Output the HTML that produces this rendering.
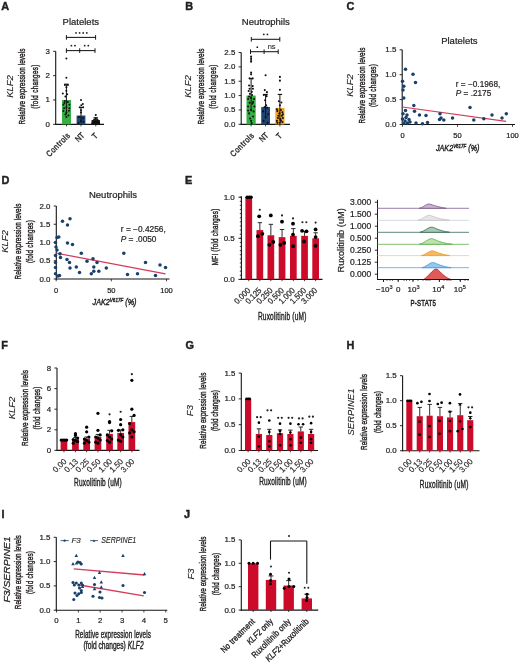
<!DOCTYPE html>
<html><head><meta charset="utf-8"><style>
html,body{margin:0;padding:0;background:#fff;}
svg{display:block;will-change:transform;}
text{font-family:"Liberation Sans", sans-serif;fill:#231f20;stroke:#231f20;stroke-width:0.22px;}
</style></head><body>
<svg width="520" height="666" viewBox="0 0 520 666" font-family='"Liberation Sans", sans-serif'>
<rect width="520" height="666" fill="#fff"/>
<text x="1.3" y="10.3" font-size="10.9" text-anchor="start" font-weight="bold" style="stroke-width:0.45px" fill="#000">A</text>
<text x="80.8" y="25" font-size="9.5" text-anchor="middle">Platelets</text>
<line x1="55.7" y1="51.31" x2="55.7" y2="124.95" stroke="#151515" stroke-width="1.1"/>
<line x1="53.1" y1="124.3" x2="55.7" y2="124.3" stroke="#151515" stroke-width="0.9"/>
<text x="49.8" y="126.8" font-size="7.9" text-anchor="end">0</text>
<line x1="53.1" y1="99.97" x2="55.7" y2="99.97" stroke="#151515" stroke-width="0.9"/>
<text x="49.8" y="102.47" font-size="7.9" text-anchor="end">1</text>
<line x1="53.1" y1="75.64" x2="55.7" y2="75.64" stroke="#151515" stroke-width="0.9"/>
<text x="49.8" y="78.14" font-size="7.9" text-anchor="end">2</text>
<line x1="53.1" y1="51.31" x2="55.7" y2="51.31" stroke="#151515" stroke-width="0.9"/>
<text x="49.8" y="53.81" font-size="7.9" text-anchor="end">3</text>
<line x1="55.2" y1="124.4" x2="104" y2="124.4" stroke="#151515" stroke-width="1.1"/>
<rect x="62" y="99.97" width="9" height="24.43" fill="#36b042"/>
<line x1="66.5" y1="124.4" x2="66.5" y2="126.4" stroke="#151515" stroke-width="0.8"/>
<rect x="76.6" y="115.54" width="8.8" height="8.86" fill="#1d4677"/>
<line x1="81" y1="124.4" x2="81" y2="126.4" stroke="#151515" stroke-width="0.8"/>
<rect x="91.5" y="120.16" width="8.5" height="4.24" fill="#1a1a1a"/>
<line x1="95.75" y1="124.4" x2="95.75" y2="126.4" stroke="#151515" stroke-width="0.8"/>
<line x1="66.4" y1="84.16" x2="66.4" y2="114.57" stroke="#151515" stroke-width="1.0"/>
<line x1="64.2" y1="84.16" x2="68.6" y2="84.16" stroke="#151515" stroke-width="1.1"/>
<line x1="81" y1="107.51" x2="81" y2="123.08" stroke="#151515" stroke-width="1.0"/>
<line x1="78.8" y1="107.51" x2="83.2" y2="107.51" stroke="#151515" stroke-width="1.1"/>
<line x1="95.75" y1="117.73" x2="95.75" y2="122.6" stroke="#151515" stroke-width="1.0"/>
<line x1="93.55" y1="117.73" x2="97.95" y2="117.73" stroke="#151515" stroke-width="1.1"/>
<circle cx="66.4" cy="58.61" r="1.0" fill="#111"/>
<circle cx="66.4" cy="77.83" r="1.0" fill="#111"/>
<circle cx="66.4" cy="87.32" r="1.0" fill="#111"/>
<circle cx="62.8" cy="93.4" r="1.0" fill="#111"/>
<circle cx="67.2" cy="94.37" r="1.0" fill="#111"/>
<circle cx="65.4" cy="96.56" r="1.0" fill="#111"/>
<circle cx="66.4" cy="90.72" r="1.0" fill="#111"/>
<circle cx="67.9" cy="84.89" r="1.0" fill="#111"/>
<circle cx="64.9" cy="84.89" r="1.0" fill="#111"/>
<circle cx="63.4" cy="104.84" r="1.0" fill="#111"/>
<circle cx="69.4" cy="104.84" r="1.0" fill="#111"/>
<circle cx="64.1" cy="108.24" r="1.0" fill="#111"/>
<circle cx="66.4" cy="107.27" r="1.0" fill="#111"/>
<circle cx="68.9" cy="110.68" r="1.0" fill="#111"/>
<circle cx="63.4" cy="110.92" r="1.0" fill="#111"/>
<circle cx="66.4" cy="112.62" r="1.0" fill="#111"/>
<circle cx="65.4" cy="114.57" r="1.0" fill="#111"/>
<circle cx="67.9" cy="101.92" r="1.0" fill="#111"/>
<circle cx="64.9" cy="100.94" r="1.0" fill="#111"/>
<circle cx="68.4" cy="115.54" r="1.0" fill="#111"/>
<circle cx="66.4" cy="117" r="1.0" fill="#111"/>
<circle cx="69.4" cy="108.24" r="1.0" fill="#111"/>
<circle cx="64.4" cy="102.89" r="1.0" fill="#111"/>
<circle cx="81" cy="99.97" r="1.0" fill="#111"/>
<circle cx="82.8" cy="104.11" r="1.0" fill="#111"/>
<circle cx="81.3" cy="105.32" r="1.0" fill="#111"/>
<circle cx="79.8" cy="107.27" r="1.0" fill="#111"/>
<circle cx="83.2" cy="107.27" r="1.0" fill="#111"/>
<circle cx="81" cy="110.19" r="1.0" fill="#111"/>
<circle cx="81" cy="112.62" r="1.0" fill="#111"/>
<circle cx="79" cy="117" r="1.0" fill="#111"/>
<circle cx="83" cy="118.22" r="1.0" fill="#111"/>
<circle cx="81" cy="120.65" r="1.0" fill="#111"/>
<circle cx="78.5" cy="123.08" r="1.0" fill="#111"/>
<circle cx="83.5" cy="121.87" r="1.0" fill="#111"/>
<circle cx="95.75" cy="115.05" r="1.05" fill="#111"/>
<circle cx="95.75" cy="118.46" r="1.05" fill="#111"/>
<circle cx="94.25" cy="119.43" r="1.05" fill="#111"/>
<circle cx="97.25" cy="119.43" r="1.05" fill="#111"/>
<circle cx="93.25" cy="120.89" r="1.05" fill="#111"/>
<circle cx="98.25" cy="120.89" r="1.05" fill="#111"/>
<circle cx="95.75" cy="120.65" r="1.05" fill="#111"/>
<circle cx="92.75" cy="122.6" r="1.05" fill="#111"/>
<circle cx="98.75" cy="122.6" r="1.05" fill="#111"/>
<circle cx="94.75" cy="122.11" r="1.05" fill="#111"/>
<circle cx="96.75" cy="122.11" r="1.05" fill="#111"/>
<circle cx="92.45" cy="123.57" r="1.05" fill="#111"/>
<circle cx="99.05" cy="123.57" r="1.05" fill="#111"/>
<circle cx="95.75" cy="123.33" r="1.05" fill="#111"/>
<circle cx="93.75" cy="123.57" r="1.05" fill="#111"/>
<circle cx="97.75" cy="123.57" r="1.05" fill="#111"/>
<line x1="66.4" y1="37.4" x2="95.6" y2="37.4" stroke="#151515" stroke-width="1.05"/>
<line x1="66.4" y1="35.1" x2="66.4" y2="39.7" stroke="#151515" stroke-width="1.0"/>
<line x1="95.6" y1="35.1" x2="95.6" y2="39.7" stroke="#151515" stroke-width="1.0"/>
<circle cx="76" cy="32.9" r="0.9" fill="#222"/>
<circle cx="79.6" cy="32.9" r="0.9" fill="#222"/>
<circle cx="83.2" cy="32.9" r="0.9" fill="#222"/>
<circle cx="86.8" cy="32.9" r="0.9" fill="#222"/>
<line x1="66.4" y1="50.6" x2="95" y2="50.6" stroke="#151515" stroke-width="1.05"/>
<line x1="66.4" y1="48.3" x2="66.4" y2="52.9" stroke="#151515" stroke-width="1.0"/>
<line x1="95" y1="48.3" x2="95" y2="52.9" stroke="#151515" stroke-width="1.0"/>
<line x1="79.7" y1="48.3" x2="79.7" y2="52.9" stroke="#151515" stroke-width="1.0"/>
<circle cx="71.4" cy="45.7" r="0.9" fill="#222"/>
<circle cx="75" cy="45.7" r="0.9" fill="#222"/>
<circle cx="84.7" cy="45.7" r="0.9" fill="#222"/>
<circle cx="88.3" cy="45.7" r="0.9" fill="#222"/>
<text transform="translate(12.6,86.5) rotate(-90)" x="0" y="0" font-size="9.5" text-anchor="middle" font-style="italic" style="stroke-width:0.12px">KLF2</text>
<text transform="translate(25.3,86.5) rotate(-90) scale(0.66,1)" x="0" y="0" font-size="9.6" text-anchor="middle" style="letter-spacing:0.167px;stroke-width:0.42px">Relative expression levels</text>
<text transform="translate(38.1,86.5) rotate(-90) scale(0.66,1)" x="0" y="0" font-size="9.6" text-anchor="middle" style="letter-spacing:0.448px;stroke-width:0.42px">(fold changes)</text>
<text transform="translate(70.8,136) rotate(-45) scale(0.85,1)" x="0" y="0" font-size="8.3" text-anchor="end" style="letter-spacing:0.557px;stroke-width:0.35px">Controls</text>
<text transform="translate(84.8,136) rotate(-45) scale(0.85,1)" x="0" y="0" font-size="8.3" text-anchor="end" style="letter-spacing:-0.223px;stroke-width:0.35px">NT</text>
<text transform="translate(98.8,136) rotate(-45) scale(0.85,1)" x="0" y="0" font-size="8.3" text-anchor="end" style="letter-spacing:0.636px;stroke-width:0.35px">T</text>
<text x="185.3" y="10.3" font-size="10.9" text-anchor="start" font-weight="bold" style="stroke-width:0.45px" fill="#000">B</text>
<text x="265.8" y="25" font-size="9.5" text-anchor="middle">Neutrophils</text>
<line x1="241.2" y1="52.5" x2="241.2" y2="124.95" stroke="#151515" stroke-width="1.1"/>
<line x1="238.6" y1="124.3" x2="241.2" y2="124.3" stroke="#151515" stroke-width="0.9"/>
<text x="235.3" y="126.8" font-size="7.9" text-anchor="end">0.0</text>
<line x1="238.6" y1="109.94" x2="241.2" y2="109.94" stroke="#151515" stroke-width="0.9"/>
<text x="235.3" y="112.44" font-size="7.9" text-anchor="end">0.5</text>
<line x1="238.6" y1="95.58" x2="241.2" y2="95.58" stroke="#151515" stroke-width="0.9"/>
<text x="235.3" y="98.08" font-size="7.9" text-anchor="end">1.0</text>
<line x1="238.6" y1="81.22" x2="241.2" y2="81.22" stroke="#151515" stroke-width="0.9"/>
<text x="235.3" y="83.72" font-size="7.9" text-anchor="end">1.5</text>
<line x1="238.6" y1="66.86" x2="241.2" y2="66.86" stroke="#151515" stroke-width="0.9"/>
<text x="235.3" y="69.36" font-size="7.9" text-anchor="end">2.0</text>
<line x1="238.6" y1="52.5" x2="241.2" y2="52.5" stroke="#151515" stroke-width="0.9"/>
<text x="235.3" y="55" font-size="7.9" text-anchor="end">2.5</text>
<line x1="240.7" y1="124.4" x2="290" y2="124.4" stroke="#151515" stroke-width="1.1"/>
<rect x="246.5" y="95.58" width="9.2" height="28.82" fill="#36b042"/>
<line x1="251.1" y1="124.4" x2="251.1" y2="126.4" stroke="#151515" stroke-width="0.8"/>
<rect x="261.2" y="107.07" width="8.8" height="17.33" fill="#1d4677"/>
<line x1="265.6" y1="124.4" x2="265.6" y2="126.4" stroke="#151515" stroke-width="0.8"/>
<rect x="275.3" y="107.93" width="9.2" height="16.47" fill="#f2a420"/>
<line x1="279.9" y1="124.4" x2="279.9" y2="126.4" stroke="#151515" stroke-width="0.8"/>
<line x1="251.1" y1="78.64" x2="251.1" y2="111.38" stroke="#151515" stroke-width="1.0"/>
<line x1="248.9" y1="78.64" x2="253.3" y2="78.64" stroke="#151515" stroke-width="1.1"/>
<line x1="265.6" y1="94.43" x2="265.6" y2="118.56" stroke="#151515" stroke-width="1.0"/>
<line x1="263.4" y1="94.43" x2="267.8" y2="94.43" stroke="#151515" stroke-width="1.1"/>
<line x1="279.9" y1="94.43" x2="279.9" y2="121.43" stroke="#151515" stroke-width="1.0"/>
<line x1="277.7" y1="94.43" x2="282.1" y2="94.43" stroke="#151515" stroke-width="1.1"/>
<circle cx="251.1" cy="56.52" r="1.05" fill="#111"/>
<circle cx="251.1" cy="58.24" r="1.05" fill="#111"/>
<circle cx="251.1" cy="59.97" r="1.05" fill="#111"/>
<circle cx="251.1" cy="61.69" r="1.05" fill="#111"/>
<circle cx="251.1" cy="72.6" r="1.05" fill="#111"/>
<circle cx="251.1" cy="74.33" r="1.05" fill="#111"/>
<circle cx="249.6" cy="78.35" r="1.05" fill="#111"/>
<circle cx="252.6" cy="78.35" r="1.05" fill="#111"/>
<circle cx="249.1" cy="85.53" r="1.05" fill="#111"/>
<circle cx="252.7" cy="86.1" r="1.05" fill="#111"/>
<circle cx="249.6" cy="88.69" r="1.05" fill="#111"/>
<circle cx="252.9" cy="88.69" r="1.05" fill="#111"/>
<circle cx="248.7" cy="90.98" r="1.05" fill="#111"/>
<circle cx="251.8" cy="91.85" r="1.05" fill="#111"/>
<circle cx="249.9" cy="93.86" r="1.05" fill="#111"/>
<circle cx="252.1" cy="95.01" r="1.05" fill="#111"/>
<circle cx="248.1" cy="99.03" r="1.05" fill="#111"/>
<circle cx="254.1" cy="99.03" r="1.05" fill="#111"/>
<circle cx="248.1" cy="106.49" r="1.05" fill="#111"/>
<circle cx="254.4" cy="106.49" r="1.05" fill="#111"/>
<circle cx="251.1" cy="109.94" r="1.05" fill="#111"/>
<circle cx="249.1" cy="113.39" r="1.05" fill="#111"/>
<circle cx="253.1" cy="116.55" r="1.05" fill="#111"/>
<circle cx="251.1" cy="120.85" r="1.05" fill="#111"/>
<circle cx="249.6" cy="102.76" r="1.05" fill="#111"/>
<circle cx="252.6" cy="103.62" r="1.05" fill="#111"/>
<circle cx="251.1" cy="97.88" r="1.05" fill="#111"/>
<circle cx="250.1" cy="118.56" r="1.05" fill="#111"/>
<circle cx="253.6" cy="111.38" r="1.05" fill="#111"/>
<circle cx="248.1" cy="110.51" r="1.05" fill="#111"/>
<circle cx="251.6" cy="123.15" r="1.05" fill="#111"/>
<circle cx="249.1" cy="96.44" r="1.05" fill="#111"/>
<circle cx="253.1" cy="101.9" r="1.05" fill="#111"/>
<circle cx="265.6" cy="75.19" r="1.05" fill="#111"/>
<circle cx="264.8" cy="90.12" r="1.05" fill="#111"/>
<circle cx="266.9" cy="92.13" r="1.05" fill="#111"/>
<circle cx="263.8" cy="95.01" r="1.05" fill="#111"/>
<circle cx="266.6" cy="96.15" r="1.05" fill="#111"/>
<circle cx="265.1" cy="100.18" r="1.05" fill="#111"/>
<circle cx="266.1" cy="105.34" r="1.05" fill="#111"/>
<circle cx="264.6" cy="107.07" r="1.05" fill="#111"/>
<circle cx="267.1" cy="107.64" r="1.05" fill="#111"/>
<circle cx="263.1" cy="111.38" r="1.05" fill="#111"/>
<circle cx="268.1" cy="114.25" r="1.05" fill="#111"/>
<circle cx="265.6" cy="117.12" r="1.05" fill="#111"/>
<circle cx="263.6" cy="120.85" r="1.05" fill="#111"/>
<circle cx="267.6" cy="122.86" r="1.05" fill="#111"/>
<circle cx="279.9" cy="76.91" r="1.05" fill="#111"/>
<circle cx="279.9" cy="80.65" r="1.05" fill="#111"/>
<circle cx="279.9" cy="89.84" r="1.05" fill="#111"/>
<circle cx="278.9" cy="101.32" r="1.05" fill="#111"/>
<circle cx="281.4" cy="102.47" r="1.05" fill="#111"/>
<circle cx="279.9" cy="105.34" r="1.05" fill="#111"/>
<circle cx="277.4" cy="111.09" r="1.05" fill="#111"/>
<circle cx="282.4" cy="112.24" r="1.05" fill="#111"/>
<circle cx="278.4" cy="115.68" r="1.05" fill="#111"/>
<circle cx="282.9" cy="117.98" r="1.05" fill="#111"/>
<circle cx="276.9" cy="120.85" r="1.05" fill="#111"/>
<circle cx="280.9" cy="120.85" r="1.05" fill="#111"/>
<circle cx="279.9" cy="122.86" r="1.05" fill="#111"/>
<circle cx="281.9" cy="115.68" r="1.05" fill="#111"/>
<circle cx="277.9" cy="117.98" r="1.05" fill="#111"/>
<circle cx="276.9" cy="109.37" r="1.05" fill="#111"/>
<circle cx="280.9" cy="109.94" r="1.05" fill="#111"/>
<circle cx="282.9" cy="114.25" r="1.05" fill="#111"/>
<circle cx="279.4" cy="113.39" r="1.05" fill="#111"/>
<circle cx="280.4" cy="119.13" r="1.05" fill="#111"/>
<circle cx="277.4" cy="122.86" r="1.05" fill="#111"/>
<circle cx="282.4" cy="122" r="1.05" fill="#111"/>
<line x1="251.3" y1="39.3" x2="279.8" y2="39.3" stroke="#151515" stroke-width="1.05"/>
<line x1="251.3" y1="37" x2="251.3" y2="41.6" stroke="#151515" stroke-width="1.0"/>
<line x1="279.8" y1="37" x2="279.8" y2="41.6" stroke="#151515" stroke-width="1.0"/>
<circle cx="263.8" cy="34.4" r="0.9" fill="#222"/>
<circle cx="267.4" cy="34.4" r="0.9" fill="#222"/>
<line x1="250.5" y1="51.7" x2="278.2" y2="51.7" stroke="#151515" stroke-width="1.05"/>
<line x1="250.5" y1="49.4" x2="250.5" y2="54" stroke="#151515" stroke-width="1.0"/>
<line x1="278.2" y1="49.4" x2="278.2" y2="54" stroke="#151515" stroke-width="1.0"/>
<line x1="264.1" y1="49.4" x2="264.1" y2="54" stroke="#151515" stroke-width="1.0"/>
<circle cx="257.3" cy="47.2" r="0.9" fill="#222"/>
<text x="271.6" y="48.9" font-size="7.5" text-anchor="middle" style="stroke-width:0.1px">ns</text>
<text transform="translate(191.3,86.5) rotate(-90)" x="0" y="0" font-size="9.5" text-anchor="middle" font-style="italic" style="stroke-width:0.12px">KLF2</text>
<text transform="translate(204.1,86.5) rotate(-90) scale(0.66,1)" x="0" y="0" font-size="9.6" text-anchor="middle" style="letter-spacing:0.167px;stroke-width:0.42px">Relative expression levels</text>
<text transform="translate(216,86.5) rotate(-90) scale(0.66,1)" x="0" y="0" font-size="9.6" text-anchor="middle" style="letter-spacing:0.448px;stroke-width:0.42px">(fold changes)</text>
<text transform="translate(254.8,136) rotate(-45) scale(0.85,1)" x="0" y="0" font-size="8.3" text-anchor="end" style="letter-spacing:0.557px;stroke-width:0.35px">Controls</text>
<text transform="translate(268.8,136) rotate(-45) scale(0.85,1)" x="0" y="0" font-size="8.3" text-anchor="end" style="letter-spacing:-0.223px;stroke-width:0.35px">NT</text>
<text transform="translate(283,136) rotate(-45) scale(0.85,1)" x="0" y="0" font-size="8.3" text-anchor="end" style="letter-spacing:0.636px;stroke-width:0.35px">T</text>
<text x="346.5" y="10.3" font-size="10.9" text-anchor="start" font-weight="bold" style="stroke-width:0.45px" fill="#000">C</text>
<text x="459.4" y="44" font-size="9.5" text-anchor="middle">Platelets</text>
<line x1="402.2" y1="49.8" x2="402.2" y2="125.05" stroke="#151515" stroke-width="1.1"/>
<line x1="399.6" y1="124.5" x2="402.2" y2="124.5" stroke="#151515" stroke-width="0.9"/>
<text x="396.3" y="127" font-size="7.9" text-anchor="end">0.0</text>
<line x1="399.6" y1="99.6" x2="402.2" y2="99.6" stroke="#151515" stroke-width="0.9"/>
<text x="396.3" y="102.1" font-size="7.9" text-anchor="end">0.5</text>
<line x1="399.6" y1="74.7" x2="402.2" y2="74.7" stroke="#151515" stroke-width="0.9"/>
<text x="396.3" y="77.2" font-size="7.9" text-anchor="end">1.0</text>
<line x1="399.6" y1="49.8" x2="402.2" y2="49.8" stroke="#151515" stroke-width="0.9"/>
<text x="396.3" y="52.3" font-size="7.9" text-anchor="end">1.5</text>
<line x1="401.7" y1="124.5" x2="515" y2="124.5" stroke="#151515" stroke-width="1.1"/>
<line x1="402.5" y1="124.5" x2="402.5" y2="126.8" stroke="#151515" stroke-width="0.8"/>
<text x="402.5" y="138" font-size="7.5" text-anchor="middle">0</text>
<line x1="457.5" y1="124.5" x2="457.5" y2="126.8" stroke="#151515" stroke-width="0.8"/>
<text x="457.5" y="138" font-size="7.5" text-anchor="middle">50</text>
<line x1="512.5" y1="124.5" x2="512.5" y2="126.8" stroke="#151515" stroke-width="0.8"/>
<text x="512.5" y="138" font-size="7.5" text-anchor="middle">100</text>
<line x1="402.5" y1="107" x2="506" y2="121.3" stroke="#d23c5a" stroke-width="1.25"/>
<circle cx="405.5" cy="69.3" r="1.75" fill="#19406a"/>
<circle cx="413" cy="74.3" r="1.75" fill="#19406a"/>
<circle cx="415.5" cy="82.5" r="1.75" fill="#19406a"/>
<circle cx="402.5" cy="81.3" r="1.75" fill="#19406a"/>
<circle cx="403.8" cy="86.3" r="1.75" fill="#19406a"/>
<circle cx="403" cy="90" r="1.75" fill="#19406a"/>
<circle cx="403.8" cy="98" r="1.75" fill="#19406a"/>
<circle cx="413.8" cy="105.5" r="1.75" fill="#19406a"/>
<circle cx="470" cy="107.5" r="1.75" fill="#19406a"/>
<circle cx="405.5" cy="110.5" r="1.75" fill="#19406a"/>
<circle cx="414.5" cy="111.3" r="1.75" fill="#19406a"/>
<circle cx="403" cy="113.8" r="1.75" fill="#19406a"/>
<circle cx="407" cy="115" r="1.75" fill="#19406a"/>
<circle cx="419.5" cy="115" r="1.75" fill="#19406a"/>
<circle cx="426" cy="115.5" r="1.75" fill="#19406a"/>
<circle cx="440" cy="113.8" r="1.75" fill="#19406a"/>
<circle cx="439.5" cy="119.5" r="1.75" fill="#19406a"/>
<circle cx="441" cy="118" r="1.75" fill="#19406a"/>
<circle cx="443.8" cy="120" r="1.75" fill="#19406a"/>
<circle cx="452.5" cy="118" r="1.75" fill="#19406a"/>
<circle cx="473.8" cy="120" r="1.75" fill="#19406a"/>
<circle cx="483.8" cy="118.8" r="1.75" fill="#19406a"/>
<circle cx="492" cy="115" r="1.75" fill="#19406a"/>
<circle cx="502" cy="118" r="1.75" fill="#19406a"/>
<circle cx="506.3" cy="113.8" r="1.75" fill="#19406a"/>
<circle cx="402.5" cy="119" r="1.75" fill="#19406a"/>
<circle cx="405" cy="121" r="1.75" fill="#19406a"/>
<circle cx="407.5" cy="123" r="1.75" fill="#19406a"/>
<circle cx="410" cy="122" r="1.75" fill="#19406a"/>
<circle cx="404" cy="123.5" r="1.75" fill="#19406a"/>
<circle cx="416" cy="123" r="1.75" fill="#19406a"/>
<circle cx="422.5" cy="123.8" r="1.75" fill="#19406a"/>
<circle cx="427.5" cy="122.5" r="1.75" fill="#19406a"/>
<circle cx="409" cy="119.5" r="1.75" fill="#19406a"/>
<circle cx="406" cy="117.5" r="1.75" fill="#19406a"/>
<text x="455.8" y="86.6" font-size="8.5" text-anchor="start" textLength="44.5" lengthAdjust="spacingAndGlyphs">r = −0.1968,</text>
<text x="455.8" y="96" font-size="8.5" text-anchor="start" textLength="35.5" lengthAdjust="spacingAndGlyphs"><tspan font-style="italic">P</tspan> = .2175</text>
<text x="436" y="151" font-size="8.8" text-anchor="start" font-style="italic" textLength="43.5" lengthAdjust="spacingAndGlyphs" style="stroke-width:0.4px">JAK2<tspan font-size="5.5" dy="-3">V617F</tspan><tspan dy="3"> (%)</tspan></text>
<text transform="translate(353.4,85.5) rotate(-90)" x="0" y="0" font-size="9.5" text-anchor="middle" font-style="italic" style="stroke-width:0.12px">KLF2</text>
<text transform="translate(364.8,85.5) rotate(-90) scale(0.66,1)" x="0" y="0" font-size="9.6" text-anchor="middle" style="letter-spacing:0.167px;stroke-width:0.42px">Relative expression levels</text>
<text transform="translate(376.2,85.5) rotate(-90) scale(0.66,1)" x="0" y="0" font-size="9.6" text-anchor="middle" style="letter-spacing:0.332px;stroke-width:0.42px">(fold changes)</text>
<text x="1.5" y="184.3" font-size="10.9" text-anchor="start" font-weight="bold" style="stroke-width:0.45px" fill="#000">D</text>
<text x="113" y="198" font-size="9.5" text-anchor="middle">Neutrophils</text>
<line x1="56.3" y1="206" x2="56.3" y2="279.55" stroke="#151515" stroke-width="1.1"/>
<line x1="53.7" y1="279" x2="56.3" y2="279" stroke="#151515" stroke-width="0.9"/>
<text x="50.4" y="281.5" font-size="7.9" text-anchor="end">0.0</text>
<line x1="53.7" y1="260.75" x2="56.3" y2="260.75" stroke="#151515" stroke-width="0.9"/>
<text x="50.4" y="263.25" font-size="7.9" text-anchor="end">0.5</text>
<line x1="53.7" y1="242.5" x2="56.3" y2="242.5" stroke="#151515" stroke-width="0.9"/>
<text x="50.4" y="245" font-size="7.9" text-anchor="end">1.0</text>
<line x1="53.7" y1="224.25" x2="56.3" y2="224.25" stroke="#151515" stroke-width="0.9"/>
<text x="50.4" y="226.75" font-size="7.9" text-anchor="end">1.5</text>
<line x1="53.7" y1="206" x2="56.3" y2="206" stroke="#151515" stroke-width="0.9"/>
<text x="50.4" y="208.5" font-size="7.9" text-anchor="end">2.0</text>
<line x1="55.8" y1="279" x2="169.5" y2="279" stroke="#151515" stroke-width="1.1"/>
<line x1="56.2" y1="279" x2="56.2" y2="281.3" stroke="#151515" stroke-width="0.8"/>
<text x="56.2" y="292.8" font-size="7.5" text-anchor="middle">0</text>
<line x1="111.35" y1="279" x2="111.35" y2="281.3" stroke="#151515" stroke-width="0.8"/>
<text x="111.35" y="292.8" font-size="7.5" text-anchor="middle">50</text>
<line x1="166.5" y1="279" x2="166.5" y2="281.3" stroke="#151515" stroke-width="0.8"/>
<text x="166.5" y="292.8" font-size="7.5" text-anchor="middle">100</text>
<line x1="55.5" y1="253" x2="165.5" y2="273.8" stroke="#d23c5a" stroke-width="1.25"/>
<circle cx="62.5" cy="221.3" r="1.75" fill="#19406a"/>
<circle cx="70" cy="218.8" r="1.75" fill="#19406a"/>
<circle cx="67.5" cy="225" r="1.75" fill="#19406a"/>
<circle cx="58.8" cy="237" r="1.75" fill="#19406a"/>
<circle cx="57" cy="237.5" r="1.75" fill="#19406a"/>
<circle cx="55.5" cy="242.5" r="1.75" fill="#19406a"/>
<circle cx="67.5" cy="243" r="1.75" fill="#19406a"/>
<circle cx="72.5" cy="244.5" r="1.75" fill="#19406a"/>
<circle cx="57" cy="250" r="1.75" fill="#19406a"/>
<circle cx="60" cy="253.8" r="1.75" fill="#19406a"/>
<circle cx="55.5" cy="255.5" r="1.75" fill="#19406a"/>
<circle cx="60.5" cy="257.5" r="1.75" fill="#19406a"/>
<circle cx="81.3" cy="253.3" r="1.75" fill="#19406a"/>
<circle cx="67" cy="259.5" r="1.75" fill="#19406a"/>
<circle cx="69.5" cy="262.5" r="1.75" fill="#19406a"/>
<circle cx="55.5" cy="262.5" r="1.75" fill="#19406a"/>
<circle cx="87" cy="261.3" r="1.75" fill="#19406a"/>
<circle cx="93" cy="258.8" r="1.75" fill="#19406a"/>
<circle cx="97" cy="262.5" r="1.75" fill="#19406a"/>
<circle cx="55.5" cy="267.5" r="1.75" fill="#19406a"/>
<circle cx="70" cy="268" r="1.75" fill="#19406a"/>
<circle cx="76.3" cy="267" r="1.75" fill="#19406a"/>
<circle cx="93.8" cy="267" r="1.75" fill="#19406a"/>
<circle cx="106.3" cy="268" r="1.75" fill="#19406a"/>
<circle cx="79.5" cy="272.5" r="1.75" fill="#19406a"/>
<circle cx="91.3" cy="273.8" r="1.75" fill="#19406a"/>
<circle cx="93.8" cy="271.3" r="1.75" fill="#19406a"/>
<circle cx="98.8" cy="271.3" r="1.75" fill="#19406a"/>
<circle cx="55.5" cy="273.8" r="1.75" fill="#19406a"/>
<circle cx="59.5" cy="275.5" r="1.75" fill="#19406a"/>
<circle cx="123.8" cy="253.3" r="1.75" fill="#19406a"/>
<circle cx="145.5" cy="262.5" r="1.75" fill="#19406a"/>
<circle cx="160" cy="265" r="1.75" fill="#19406a"/>
<circle cx="165.5" cy="267.5" r="1.75" fill="#19406a"/>
<circle cx="127.5" cy="274.5" r="1.75" fill="#19406a"/>
<circle cx="137.5" cy="273.8" r="1.75" fill="#19406a"/>
<circle cx="155.5" cy="275.5" r="1.75" fill="#19406a"/>
<circle cx="58" cy="276" r="1.75" fill="#19406a"/>
<circle cx="56" cy="247" r="1.75" fill="#19406a"/>
<text x="120.8" y="232.3" font-size="8.5" text-anchor="start" textLength="45" lengthAdjust="spacingAndGlyphs">r = −0.4256,</text>
<text x="120.8" y="242" font-size="8.5" text-anchor="start" textLength="35.7" lengthAdjust="spacingAndGlyphs"><tspan font-style="italic">P</tspan> = .0050</text>
<text x="92.5" y="305.4" font-size="8.8" text-anchor="start" font-style="italic" textLength="44" lengthAdjust="spacingAndGlyphs" style="stroke-width:0.4px">JAK2<tspan font-size="5.5" dy="-3">V617F</tspan><tspan dy="3"> (%)</tspan></text>
<text transform="translate(8.3,241.5) rotate(-90)" x="0" y="0" font-size="9.5" text-anchor="middle" font-style="italic" style="stroke-width:0.12px">KLF2</text>
<text transform="translate(21,241.5) rotate(-90) scale(0.66,1)" x="0" y="0" font-size="9.6" text-anchor="middle" style="letter-spacing:0.167px;stroke-width:0.42px">Relative expression levels</text>
<text transform="translate(33.4,241.5) rotate(-90) scale(0.66,1)" x="0" y="0" font-size="9.6" text-anchor="middle" style="letter-spacing:0.332px;stroke-width:0.42px">(fold changes)</text>
<text x="185" y="184.3" font-size="10.9" text-anchor="start" font-weight="bold" style="stroke-width:0.45px" fill="#000">E</text>
<line x1="241.4" y1="196.2" x2="241.4" y2="279.9" stroke="#151515" stroke-width="1.1"/>
<line x1="239.8" y1="279.4" x2="241.2" y2="279.4" stroke="#151515" stroke-width="0.8"/>
<line x1="239.8" y1="275.29" x2="241.2" y2="275.29" stroke="#151515" stroke-width="0.8"/>
<line x1="239.8" y1="271.18" x2="241.2" y2="271.18" stroke="#151515" stroke-width="0.8"/>
<line x1="239.8" y1="267.07" x2="241.2" y2="267.07" stroke="#151515" stroke-width="0.8"/>
<line x1="239.8" y1="262.96" x2="241.2" y2="262.96" stroke="#151515" stroke-width="0.8"/>
<line x1="239.8" y1="258.85" x2="241.2" y2="258.85" stroke="#151515" stroke-width="0.8"/>
<line x1="239.8" y1="254.74" x2="241.2" y2="254.74" stroke="#151515" stroke-width="0.8"/>
<line x1="239.8" y1="250.63" x2="241.2" y2="250.63" stroke="#151515" stroke-width="0.8"/>
<line x1="239.8" y1="246.52" x2="241.2" y2="246.52" stroke="#151515" stroke-width="0.8"/>
<line x1="239.8" y1="242.41" x2="241.2" y2="242.41" stroke="#151515" stroke-width="0.8"/>
<line x1="239.8" y1="238.3" x2="241.2" y2="238.3" stroke="#151515" stroke-width="0.8"/>
<line x1="239.8" y1="234.19" x2="241.2" y2="234.19" stroke="#151515" stroke-width="0.8"/>
<line x1="239.8" y1="230.08" x2="241.2" y2="230.08" stroke="#151515" stroke-width="0.8"/>
<line x1="239.8" y1="225.97" x2="241.2" y2="225.97" stroke="#151515" stroke-width="0.8"/>
<line x1="239.8" y1="221.86" x2="241.2" y2="221.86" stroke="#151515" stroke-width="0.8"/>
<line x1="239.8" y1="217.75" x2="241.2" y2="217.75" stroke="#151515" stroke-width="0.8"/>
<line x1="239.8" y1="213.64" x2="241.2" y2="213.64" stroke="#151515" stroke-width="0.8"/>
<line x1="239.8" y1="209.53" x2="241.2" y2="209.53" stroke="#151515" stroke-width="0.8"/>
<line x1="239.8" y1="205.42" x2="241.2" y2="205.42" stroke="#151515" stroke-width="0.8"/>
<line x1="239.8" y1="201.31" x2="241.2" y2="201.31" stroke="#151515" stroke-width="0.8"/>
<line x1="239.8" y1="197.2" x2="241.2" y2="197.2" stroke="#151515" stroke-width="0.8"/>
<line x1="238.4" y1="279.4" x2="241.2" y2="279.4" stroke="#151515" stroke-width="0.9"/>
<text x="234.8" y="282.2" font-size="8" text-anchor="end">0.0</text>
<line x1="238.4" y1="238.3" x2="241.2" y2="238.3" stroke="#151515" stroke-width="0.9"/>
<text x="234.8" y="241.1" font-size="8" text-anchor="end">0.5</text>
<line x1="238.4" y1="197.2" x2="241.2" y2="197.2" stroke="#151515" stroke-width="0.9"/>
<text x="234.8" y="200" font-size="8" text-anchor="end">1.0</text>
<line x1="240.7" y1="279.4" x2="322.5" y2="279.4" stroke="#151515" stroke-width="1.1"/>
<rect x="245.4" y="197.2" width="6.7" height="82.2" fill="#cc0a2a"/>
<line x1="248.75" y1="279.4" x2="248.75" y2="281.2" stroke="#151515" stroke-width="0.8"/>
<rect x="256.5" y="230.08" width="6.7" height="49.32" fill="#cc0a2a"/>
<line x1="259.85" y1="279.4" x2="259.85" y2="281.2" stroke="#151515" stroke-width="0.8"/>
<line x1="259.85" y1="222.68" x2="259.85" y2="230.08" stroke="#151515" stroke-width="0.9"/>
<line x1="257.65" y1="222.68" x2="262.05" y2="222.68" stroke="#151515" stroke-width="0.9"/>
<rect x="267.5" y="235.26" width="6.7" height="44.14" fill="#cc0a2a"/>
<line x1="270.85" y1="279.4" x2="270.85" y2="281.2" stroke="#151515" stroke-width="0.8"/>
<line x1="270.85" y1="224.33" x2="270.85" y2="235.26" stroke="#151515" stroke-width="0.9"/>
<line x1="268.65" y1="224.33" x2="273.05" y2="224.33" stroke="#151515" stroke-width="0.9"/>
<rect x="278.7" y="237.15" width="6.7" height="42.25" fill="#cc0a2a"/>
<line x1="282.05" y1="279.4" x2="282.05" y2="281.2" stroke="#151515" stroke-width="0.8"/>
<line x1="282.05" y1="229.5" x2="282.05" y2="237.15" stroke="#151515" stroke-width="0.9"/>
<line x1="279.85" y1="229.5" x2="284.25" y2="229.5" stroke="#151515" stroke-width="0.9"/>
<rect x="290" y="235.83" width="6.7" height="43.57" fill="#cc0a2a"/>
<line x1="293.35" y1="279.4" x2="293.35" y2="281.2" stroke="#151515" stroke-width="0.8"/>
<line x1="293.35" y1="228.6" x2="293.35" y2="235.83" stroke="#151515" stroke-width="0.9"/>
<line x1="291.15" y1="228.6" x2="295.55" y2="228.6" stroke="#151515" stroke-width="0.9"/>
<rect x="301.2" y="235.83" width="6.7" height="43.57" fill="#cc0a2a"/>
<line x1="304.55" y1="279.4" x2="304.55" y2="281.2" stroke="#151515" stroke-width="0.8"/>
<line x1="304.55" y1="231.4" x2="304.55" y2="235.83" stroke="#151515" stroke-width="0.9"/>
<line x1="302.35" y1="231.4" x2="306.75" y2="231.4" stroke="#151515" stroke-width="0.9"/>
<rect x="312.3" y="238.3" width="6.7" height="41.1" fill="#cc0a2a"/>
<line x1="315.65" y1="279.4" x2="315.65" y2="281.2" stroke="#151515" stroke-width="0.8"/>
<line x1="315.65" y1="232.79" x2="315.65" y2="238.3" stroke="#151515" stroke-width="0.9"/>
<line x1="313.45" y1="232.79" x2="317.85" y2="232.79" stroke="#151515" stroke-width="0.9"/>
<circle cx="247.2" cy="197.2" r="1.8" fill="#000"/>
<circle cx="249.2" cy="197.2" r="1.8" fill="#000"/>
<circle cx="251" cy="197.2" r="1.8" fill="#000"/>
<circle cx="259.2" cy="216.3" r="1.9" fill="#000"/>
<circle cx="257.9" cy="236.2" r="1.9" fill="#000"/>
<circle cx="262.3" cy="233.8" r="1.9" fill="#000"/>
<circle cx="270.8" cy="215.4" r="1.9" fill="#000"/>
<circle cx="269.4" cy="244.8" r="1.9" fill="#000"/>
<circle cx="273.3" cy="241.9" r="1.9" fill="#000"/>
<circle cx="282" cy="221.7" r="1.9" fill="#000"/>
<circle cx="280.4" cy="244.8" r="1.9" fill="#000"/>
<circle cx="284.2" cy="242.9" r="1.9" fill="#000"/>
<circle cx="293" cy="223.7" r="1.9" fill="#000"/>
<circle cx="293" cy="234.6" r="1.9" fill="#000"/>
<circle cx="293" cy="246.2" r="1.9" fill="#000"/>
<circle cx="302.1" cy="230.8" r="1.9" fill="#000"/>
<circle cx="306.5" cy="231.3" r="1.9" fill="#000"/>
<circle cx="304" cy="241.5" r="1.9" fill="#000"/>
<circle cx="315.6" cy="229.4" r="1.9" fill="#000"/>
<circle cx="315.6" cy="237.1" r="1.9" fill="#000"/>
<circle cx="315.6" cy="245.8" r="1.9" fill="#000"/>
<circle cx="259.8" cy="209.7" r="1.05" fill="#222"/>
<circle cx="282" cy="215.4" r="1.05" fill="#222"/>
<circle cx="293" cy="218.4" r="1.05" fill="#222"/>
<circle cx="315.6" cy="222.6" r="1.05" fill="#222"/>
<circle cx="302.45" cy="222.2" r="1.05" fill="#222"/>
<circle cx="306.35" cy="222.2" r="1.05" fill="#222"/>
<text transform="translate(218,236.8) rotate(-90) scale(0.64,1)" x="0" y="0" font-size="9.8" text-anchor="middle" style="letter-spacing:0.387px;stroke-width:0.45px">MFI (fold changes)</text>
<text transform="translate(250.95,291) rotate(-45)" x="0" y="0" font-size="8.3" text-anchor="end" textLength="19" lengthAdjust="spacingAndGlyphs">0.000</text>
<text transform="translate(262.1,291) rotate(-45)" x="0" y="0" font-size="8.3" text-anchor="end" textLength="19" lengthAdjust="spacingAndGlyphs">0.125</text>
<text transform="translate(273.25,291) rotate(-45)" x="0" y="0" font-size="8.3" text-anchor="end" textLength="19" lengthAdjust="spacingAndGlyphs">0.250</text>
<text transform="translate(284.4,291) rotate(-45)" x="0" y="0" font-size="8.3" text-anchor="end" textLength="19" lengthAdjust="spacingAndGlyphs">0.500</text>
<text transform="translate(295.55,291) rotate(-45)" x="0" y="0" font-size="8.3" text-anchor="end" textLength="19" lengthAdjust="spacingAndGlyphs">1.000</text>
<text transform="translate(306.7,291) rotate(-45)" x="0" y="0" font-size="8.3" text-anchor="end" textLength="19" lengthAdjust="spacingAndGlyphs">1.500</text>
<text transform="translate(317.85,291) rotate(-45)" x="0" y="0" font-size="8.3" text-anchor="end" textLength="19" lengthAdjust="spacingAndGlyphs">3.000</text>
<text transform="translate(282.2,320) scale(0.64,1)" x="0" y="0" font-size="10.2" text-anchor="middle" style="letter-spacing:0.328px;stroke-width:0.4px">Ruxolitinib (uM)</text>
<line x1="377.5" y1="199.8" x2="377.5" y2="279.5" stroke="#151515" stroke-width="0.95"/>
<line x1="374.8" y1="202.2" x2="377.5" y2="202.2" stroke="#151515" stroke-width="0.9"/>
<text x="371.3" y="205.1" font-size="8.5" text-anchor="end">3.000</text>
<line x1="374.8" y1="214.2" x2="377.5" y2="214.2" stroke="#151515" stroke-width="0.9"/>
<text x="371.3" y="217.1" font-size="8.5" text-anchor="end">1.500</text>
<line x1="374.8" y1="226.2" x2="377.5" y2="226.2" stroke="#151515" stroke-width="0.9"/>
<text x="371.3" y="229.1" font-size="8.5" text-anchor="end">1.000</text>
<line x1="374.8" y1="238.2" x2="377.5" y2="238.2" stroke="#151515" stroke-width="0.9"/>
<text x="371.3" y="241.1" font-size="8.5" text-anchor="end">0.500</text>
<line x1="374.8" y1="250.2" x2="377.5" y2="250.2" stroke="#151515" stroke-width="0.9"/>
<text x="371.3" y="253.1" font-size="8.5" text-anchor="end">0.250</text>
<line x1="374.8" y1="262.2" x2="377.5" y2="262.2" stroke="#151515" stroke-width="0.9"/>
<text x="371.3" y="265.1" font-size="8.5" text-anchor="end">0.125</text>
<line x1="374.8" y1="274.2" x2="377.5" y2="274.2" stroke="#151515" stroke-width="0.9"/>
<text x="371.3" y="277.1" font-size="8.5" text-anchor="end">0.000</text>
<text transform="translate(344,240.3) rotate(-90)" x="0" y="0" font-size="9.3" text-anchor="middle" textLength="64.5" lengthAdjust="spacingAndGlyphs">Ruxolitinib (uM)</text>
<line x1="377.5" y1="208.3" x2="469" y2="208.3" stroke="#8d6f9c" stroke-width="0.9"/>
<path d="M419.2,208.3 C423.2,207.8 425.6,204.0 428.6,204.0 C431.6,204.0 434.6,206.5 446.2,208.3 Z" fill="#c9b3d3" stroke="#7b5a8c" stroke-width="0.8"/>
<line x1="377.5" y1="220.3" x2="469" y2="220.3" stroke="#d6d6d6" stroke-width="0.9"/>
<path d="M417.8,220.3 C421.8,219.8 426.0,215.3 429.0,215.3 C432.0,215.3 435.0,218.5 449.6,220.3 Z" fill="#e6e6e6" stroke="#c5c5c5" stroke-width="0.8"/>
<line x1="377.5" y1="232.3" x2="469" y2="232.3" stroke="#4d7a63" stroke-width="0.9"/>
<path d="M419.9,232.3 C423.9,231.8 428.4,227.10000000000002 431.4,227.10000000000002 C434.4,227.10000000000002 437.4,230.5 449.6,232.3 Z" fill="#a9c8b8" stroke="#3d6b55" stroke-width="0.8"/>
<line x1="377.5" y1="244.3" x2="469" y2="244.3" stroke="#74b865" stroke-width="0.9"/>
<path d="M419.2,244.3 C423.2,243.8 428.4,238.60000000000002 431.4,238.60000000000002 C434.4,238.60000000000002 437.4,242.5 452.3,244.3 Z" fill="#bde3aa" stroke="#5fb050" stroke-width="0.8"/>
<line x1="377.5" y1="255.6" x2="469" y2="255.6" stroke="#f6cfa0" stroke-width="0.9"/>
<path d="M421.2,255.6 C425.2,255.1 429.0,250.79999999999998 432.0,250.79999999999998 C435.0,250.79999999999998 438.0,253.79999999999998 449.6,255.6 Z" fill="#f8b85a" stroke="#ee9a35" stroke-width="0.8"/>
<line x1="377.5" y1="267.7" x2="469" y2="267.7" stroke="#6aaee0" stroke-width="0.9"/>
<path d="M421.9,267.7 C425.9,267.2 429.7,262.5 432.7,262.5 C435.7,262.5 438.7,265.9 451.0,267.7 Z" fill="#93c9f1" stroke="#4a97d0" stroke-width="0.8"/>
<path d="M423.5,279.5 C427.5,277.5 433.1,269.0 436.1,269.0 C439.1,269.0 442.1,276.5 451,279.5 Z" fill="#e05a5a" stroke="#a82828" stroke-width="0.8"/>
<line x1="377" y1="279.5" x2="469" y2="279.5" stroke="#151515" stroke-width="1.1"/>
<line x1="383.5" y1="279.5" x2="383.5" y2="281" stroke="#151515" stroke-width="0.6"/>
<line x1="387" y1="279.5" x2="387" y2="281" stroke="#151515" stroke-width="0.6"/>
<line x1="390" y1="279.5" x2="390" y2="281" stroke="#151515" stroke-width="0.6"/>
<line x1="392.5" y1="279.5" x2="392.5" y2="281" stroke="#151515" stroke-width="0.6"/>
<line x1="398.2" y1="279.5" x2="398.2" y2="281" stroke="#151515" stroke-width="0.6"/>
<line x1="404" y1="279.5" x2="404" y2="281" stroke="#151515" stroke-width="0.6"/>
<line x1="406.5" y1="279.5" x2="406.5" y2="281" stroke="#151515" stroke-width="0.6"/>
<line x1="409.5" y1="279.5" x2="409.5" y2="281" stroke="#151515" stroke-width="0.6"/>
<line x1="413" y1="279.5" x2="413" y2="281" stroke="#151515" stroke-width="0.6"/>
<line x1="418" y1="279.5" x2="418" y2="281" stroke="#151515" stroke-width="0.6"/>
<line x1="423" y1="279.5" x2="423" y2="281" stroke="#151515" stroke-width="0.6"/>
<line x1="426" y1="279.5" x2="426" y2="281" stroke="#151515" stroke-width="0.6"/>
<line x1="428" y1="279.5" x2="428" y2="281" stroke="#151515" stroke-width="0.6"/>
<line x1="430" y1="279.5" x2="430" y2="281" stroke="#151515" stroke-width="0.6"/>
<line x1="439.4" y1="279.5" x2="439.4" y2="281" stroke="#151515" stroke-width="0.6"/>
<line x1="444" y1="279.5" x2="444" y2="281" stroke="#151515" stroke-width="0.6"/>
<line x1="447" y1="279.5" x2="447" y2="281" stroke="#151515" stroke-width="0.6"/>
<line x1="449" y1="279.5" x2="449" y2="281" stroke="#151515" stroke-width="0.6"/>
<line x1="451" y1="279.5" x2="451" y2="281" stroke="#151515" stroke-width="0.6"/>
<line x1="460" y1="279.5" x2="460" y2="281" stroke="#151515" stroke-width="0.6"/>
<line x1="465" y1="279.5" x2="465" y2="281" stroke="#151515" stroke-width="0.6"/>
<line x1="468" y1="279.5" x2="468" y2="281" stroke="#151515" stroke-width="0.6"/>
<line x1="383.5" y1="279.5" x2="383.5" y2="282" stroke="#151515" stroke-width="0.9"/>
<line x1="398.2" y1="279.5" x2="398.2" y2="282" stroke="#151515" stroke-width="0.9"/>
<line x1="413" y1="279.5" x2="413" y2="282" stroke="#151515" stroke-width="0.9"/>
<line x1="439.4" y1="279.5" x2="439.4" y2="282" stroke="#151515" stroke-width="0.9"/>
<line x1="460.3" y1="279.5" x2="460.3" y2="282" stroke="#151515" stroke-width="0.9"/>
<text x="376" y="291.8" font-size="8" text-anchor="start">−10<tspan font-size="5.5" dy="-3">3</tspan></text>
<text x="398.2" y="291.8" font-size="8" text-anchor="middle">0</text>
<text x="407.5" y="291.8" font-size="8" text-anchor="start">10<tspan font-size="5.5" dy="-3">3</tspan></text>
<text x="432.3" y="291.8" font-size="8" text-anchor="start">10<tspan font-size="5.5" dy="-3">4</tspan></text>
<text x="453.8" y="291.8" font-size="8" text-anchor="start">10<tspan font-size="5.5" dy="-3">5</tspan></text>
<text transform="translate(423.3,306.3) scale(0.62,1)" x="0" y="0" font-size="9.8" text-anchor="middle" style="letter-spacing:0.381px;stroke-width:0.55px">P-STAT5</text>
<text x="1.3" y="349.1" font-size="10.9" text-anchor="start" font-weight="bold" style="stroke-width:0.45px" fill="#000">F</text>
<line x1="57" y1="368" x2="57" y2="450.95" stroke="#151515" stroke-width="1.1"/>
<line x1="54.4" y1="450.4" x2="57" y2="450.4" stroke="#151515" stroke-width="0.9"/>
<text x="51.1" y="452.9" font-size="7.9" text-anchor="end">0</text>
<line x1="54.4" y1="429.8" x2="57" y2="429.8" stroke="#151515" stroke-width="0.9"/>
<text x="51.1" y="432.3" font-size="7.9" text-anchor="end">2</text>
<line x1="54.4" y1="409.2" x2="57" y2="409.2" stroke="#151515" stroke-width="0.9"/>
<text x="51.1" y="411.7" font-size="7.9" text-anchor="end">4</text>
<line x1="54.4" y1="388.6" x2="57" y2="388.6" stroke="#151515" stroke-width="0.9"/>
<text x="51.1" y="391.1" font-size="7.9" text-anchor="end">6</text>
<line x1="54.4" y1="368" x2="57" y2="368" stroke="#151515" stroke-width="0.9"/>
<text x="51.1" y="370.5" font-size="7.9" text-anchor="end">8</text>
<line x1="56.5" y1="450.4" x2="139.5" y2="450.4" stroke="#151515" stroke-width="1.1"/>
<rect x="60.6" y="440.1" width="6.7" height="10.3" fill="#cc0a2a"/>
<line x1="63.95" y1="450.4" x2="63.95" y2="452.3" stroke="#151515" stroke-width="0.8"/>
<rect x="72.1" y="439.07" width="6.7" height="11.33" fill="#cc0a2a"/>
<line x1="75.45" y1="450.4" x2="75.45" y2="452.3" stroke="#151515" stroke-width="0.8"/>
<line x1="75.45" y1="437.52" x2="75.45" y2="439.07" stroke="#151515" stroke-width="0.9"/>
<line x1="73.25" y1="437.52" x2="77.65" y2="437.52" stroke="#151515" stroke-width="0.9"/>
<rect x="83.3" y="438.55" width="6.7" height="11.85" fill="#cc0a2a"/>
<line x1="86.65" y1="450.4" x2="86.65" y2="452.3" stroke="#151515" stroke-width="0.8"/>
<line x1="86.65" y1="437.01" x2="86.65" y2="438.55" stroke="#151515" stroke-width="0.9"/>
<line x1="84.45" y1="437.01" x2="88.85" y2="437.01" stroke="#151515" stroke-width="0.9"/>
<rect x="94.6" y="437.01" width="6.7" height="13.39" fill="#cc0a2a"/>
<line x1="97.95" y1="450.4" x2="97.95" y2="452.3" stroke="#151515" stroke-width="0.8"/>
<line x1="97.95" y1="434.44" x2="97.95" y2="437.01" stroke="#151515" stroke-width="0.9"/>
<line x1="95.75" y1="434.44" x2="100.15" y2="434.44" stroke="#151515" stroke-width="0.9"/>
<rect x="106.2" y="433.92" width="6.7" height="16.48" fill="#cc0a2a"/>
<line x1="109.55" y1="450.4" x2="109.55" y2="452.3" stroke="#151515" stroke-width="0.8"/>
<line x1="109.55" y1="430.31" x2="109.55" y2="433.92" stroke="#151515" stroke-width="0.9"/>
<line x1="107.35" y1="430.31" x2="111.75" y2="430.31" stroke="#151515" stroke-width="0.9"/>
<rect x="117.3" y="432.89" width="6.7" height="17.51" fill="#cc0a2a"/>
<line x1="120.65" y1="450.4" x2="120.65" y2="452.3" stroke="#151515" stroke-width="0.8"/>
<line x1="120.65" y1="430.01" x2="120.65" y2="432.89" stroke="#151515" stroke-width="0.9"/>
<line x1="118.45" y1="430.01" x2="122.85" y2="430.01" stroke="#151515" stroke-width="0.9"/>
<rect x="128.5" y="422.07" width="6.7" height="28.32" fill="#cc0a2a"/>
<line x1="131.85" y1="450.4" x2="131.85" y2="452.3" stroke="#151515" stroke-width="0.8"/>
<line x1="131.85" y1="416.41" x2="131.85" y2="422.07" stroke="#151515" stroke-width="0.9"/>
<line x1="129.65" y1="416.41" x2="134.05" y2="416.41" stroke="#151515" stroke-width="0.9"/>
<circle cx="61.25" cy="440.1" r="1.6" fill="#000"/>
<circle cx="63.05" cy="440.1" r="1.6" fill="#000"/>
<circle cx="64.85" cy="440.1" r="1.6" fill="#000"/>
<circle cx="66.65" cy="440.1" r="1.6" fill="#000"/>
<circle cx="75.45" cy="433.71" r="1.6" fill="#000"/>
<circle cx="75.45" cy="435.46" r="1.6" fill="#000"/>
<circle cx="77.65" cy="438.04" r="1.6" fill="#000"/>
<circle cx="73.25" cy="439.58" r="1.6" fill="#000"/>
<circle cx="75.45" cy="440.61" r="1.6" fill="#000"/>
<circle cx="77.65" cy="441.64" r="1.6" fill="#000"/>
<circle cx="73.25" cy="443.19" r="1.6" fill="#000"/>
<circle cx="86.65" cy="427.22" r="1.6" fill="#000"/>
<circle cx="86.65" cy="431.86" r="1.6" fill="#000"/>
<circle cx="88.85" cy="437.01" r="1.6" fill="#000"/>
<circle cx="84.45" cy="439.07" r="1.6" fill="#000"/>
<circle cx="86.65" cy="440.61" r="1.6" fill="#000"/>
<circle cx="88.85" cy="442.16" r="1.6" fill="#000"/>
<circle cx="84.45" cy="443.19" r="1.6" fill="#000"/>
<circle cx="97.95" cy="413.32" r="1.6" fill="#000"/>
<circle cx="97.95" cy="430.31" r="1.6" fill="#000"/>
<circle cx="100.15" cy="434.95" r="1.6" fill="#000"/>
<circle cx="95.75" cy="437.01" r="1.6" fill="#000"/>
<circle cx="97.95" cy="438.04" r="1.6" fill="#000"/>
<circle cx="100.15" cy="440.1" r="1.6" fill="#000"/>
<circle cx="95.75" cy="442.16" r="1.6" fill="#000"/>
<circle cx="97.95" cy="443.19" r="1.6" fill="#000"/>
<circle cx="109.55" cy="421.56" r="1.6" fill="#000"/>
<circle cx="109.55" cy="422.59" r="1.6" fill="#000"/>
<circle cx="111.75" cy="430.83" r="1.6" fill="#000"/>
<circle cx="107.35" cy="434.95" r="1.6" fill="#000"/>
<circle cx="109.55" cy="437.01" r="1.6" fill="#000"/>
<circle cx="111.75" cy="439.07" r="1.6" fill="#000"/>
<circle cx="107.35" cy="440.61" r="1.6" fill="#000"/>
<circle cx="109.55" cy="442.16" r="1.6" fill="#000"/>
<circle cx="120.65" cy="419.5" r="1.6" fill="#000"/>
<circle cx="120.65" cy="424.65" r="1.6" fill="#000"/>
<circle cx="122.85" cy="429.8" r="1.6" fill="#000"/>
<circle cx="118.45" cy="430.31" r="1.6" fill="#000"/>
<circle cx="120.65" cy="434.95" r="1.6" fill="#000"/>
<circle cx="122.85" cy="437.01" r="1.6" fill="#000"/>
<circle cx="118.45" cy="440.1" r="1.6" fill="#000"/>
<circle cx="120.65" cy="441.13" r="1.6" fill="#000"/>
<circle cx="131.85" cy="380.36" r="1.6" fill="#000"/>
<circle cx="131.85" cy="409.2" r="1.6" fill="#000"/>
<circle cx="134.05" cy="415.38" r="1.6" fill="#000"/>
<circle cx="129.65" cy="423.62" r="1.6" fill="#000"/>
<circle cx="131.85" cy="429.8" r="1.6" fill="#000"/>
<circle cx="134.05" cy="431.86" r="1.6" fill="#000"/>
<circle cx="129.65" cy="432.89" r="1.6" fill="#000"/>
<circle cx="131.85" cy="437.01" r="1.6" fill="#000"/>
<circle cx="109.55" cy="414.35" r="1.1" fill="#222"/>
<circle cx="120.65" cy="411.77" r="1.1" fill="#222"/>
<circle cx="131.85" cy="374.18" r="1.1" fill="#222"/>
<text transform="translate(14.5,408) rotate(-90)" x="0" y="0" font-size="9.5" text-anchor="middle" font-style="italic" style="stroke-width:0.12px">KLF2</text>
<text transform="translate(27.6,408) rotate(-90) scale(0.66,1)" x="0" y="0" font-size="9.6" text-anchor="middle" style="letter-spacing:0.167px;stroke-width:0.42px">Relative expression levels</text>
<text transform="translate(40.2,408) rotate(-90) scale(0.66,1)" x="0" y="0" font-size="9.6" text-anchor="middle" style="letter-spacing:0.332px;stroke-width:0.42px">(fold changes)</text>
<text transform="translate(67.05,462) rotate(-45)" x="0" y="0" font-size="8.2" text-anchor="end" textLength="15.5" lengthAdjust="spacingAndGlyphs" style="stroke-width:0.15px">0.00</text>
<text transform="translate(78.55,462) rotate(-45)" x="0" y="0" font-size="8.2" text-anchor="end" textLength="15.5" lengthAdjust="spacingAndGlyphs" style="stroke-width:0.15px">0.13</text>
<text transform="translate(89.75,462) rotate(-45)" x="0" y="0" font-size="8.2" text-anchor="end" textLength="15.5" lengthAdjust="spacingAndGlyphs" style="stroke-width:0.15px">0.25</text>
<text transform="translate(101.05,462) rotate(-45)" x="0" y="0" font-size="8.2" text-anchor="end" textLength="15.5" lengthAdjust="spacingAndGlyphs" style="stroke-width:0.15px">0.50</text>
<text transform="translate(112.65,462) rotate(-45)" x="0" y="0" font-size="8.2" text-anchor="end" textLength="15.5" lengthAdjust="spacingAndGlyphs" style="stroke-width:0.15px">1.00</text>
<text transform="translate(123.75,462) rotate(-45)" x="0" y="0" font-size="8.2" text-anchor="end" textLength="15.5" lengthAdjust="spacingAndGlyphs" style="stroke-width:0.15px">1.50</text>
<text transform="translate(134.95,462) rotate(-45)" x="0" y="0" font-size="8.2" text-anchor="end" textLength="15.5" lengthAdjust="spacingAndGlyphs" style="stroke-width:0.15px">3.00</text>
<text transform="translate(98,486) scale(0.64,1)" x="0" y="0" font-size="10.2" text-anchor="middle" style="letter-spacing:0.245px;stroke-width:0.4px">Ruxolitinib (uM)</text>
<text x="185.5" y="349.1" font-size="10.9" text-anchor="start" font-weight="bold" style="stroke-width:0.45px" fill="#000">G</text>
<line x1="241.3" y1="373.1" x2="241.3" y2="451.05" stroke="#151515" stroke-width="1.1"/>
<line x1="238.7" y1="450.5" x2="241.3" y2="450.5" stroke="#151515" stroke-width="0.9"/>
<text x="235.4" y="453" font-size="7.9" text-anchor="end">0.0</text>
<line x1="238.7" y1="424.7" x2="241.3" y2="424.7" stroke="#151515" stroke-width="0.9"/>
<text x="235.4" y="427.2" font-size="7.9" text-anchor="end">0.5</text>
<line x1="238.7" y1="398.9" x2="241.3" y2="398.9" stroke="#151515" stroke-width="0.9"/>
<text x="235.4" y="401.4" font-size="7.9" text-anchor="end">1.0</text>
<line x1="238.7" y1="373.1" x2="241.3" y2="373.1" stroke="#151515" stroke-width="0.9"/>
<text x="235.4" y="375.6" font-size="7.9" text-anchor="end">1.5</text>
<line x1="240.8" y1="450.5" x2="318" y2="450.5" stroke="#151515" stroke-width="1.1"/>
<rect x="245" y="398.9" width="6.2" height="51.6" fill="#cc0a2a"/>
<line x1="248.1" y1="450.5" x2="248.1" y2="452.3" stroke="#151515" stroke-width="0.8"/>
<rect x="255.8" y="433.99" width="6.2" height="16.51" fill="#cc0a2a"/>
<line x1="258.9" y1="450.5" x2="258.9" y2="452.3" stroke="#151515" stroke-width="0.8"/>
<line x1="258.9" y1="428.83" x2="258.9" y2="433.99" stroke="#151515" stroke-width="0.9"/>
<line x1="256.7" y1="428.83" x2="261.1" y2="428.83" stroke="#151515" stroke-width="0.9"/>
<rect x="266.2" y="435.02" width="6.2" height="15.48" fill="#cc0a2a"/>
<line x1="269.3" y1="450.5" x2="269.3" y2="452.3" stroke="#151515" stroke-width="0.8"/>
<line x1="269.3" y1="429.34" x2="269.3" y2="435.02" stroke="#151515" stroke-width="0.9"/>
<line x1="267.1" y1="429.34" x2="271.5" y2="429.34" stroke="#151515" stroke-width="0.9"/>
<rect x="276.9" y="433.21" width="6.2" height="17.29" fill="#cc0a2a"/>
<line x1="280" y1="450.5" x2="280" y2="452.3" stroke="#151515" stroke-width="0.8"/>
<line x1="280" y1="429.86" x2="280" y2="433.21" stroke="#151515" stroke-width="0.9"/>
<line x1="277.8" y1="429.86" x2="282.2" y2="429.86" stroke="#151515" stroke-width="0.9"/>
<rect x="287.3" y="433.99" width="6.2" height="16.51" fill="#cc0a2a"/>
<line x1="290.4" y1="450.5" x2="290.4" y2="452.3" stroke="#151515" stroke-width="0.8"/>
<line x1="290.4" y1="430.12" x2="290.4" y2="433.99" stroke="#151515" stroke-width="0.9"/>
<line x1="288.2" y1="430.12" x2="292.6" y2="430.12" stroke="#151515" stroke-width="0.9"/>
<rect x="297.7" y="431.41" width="6.2" height="19.09" fill="#cc0a2a"/>
<line x1="300.8" y1="450.5" x2="300.8" y2="452.3" stroke="#151515" stroke-width="0.8"/>
<line x1="300.8" y1="427.02" x2="300.8" y2="431.41" stroke="#151515" stroke-width="0.9"/>
<line x1="298.6" y1="427.02" x2="303" y2="427.02" stroke="#151515" stroke-width="0.9"/>
<rect x="308" y="433.99" width="6.2" height="16.51" fill="#cc0a2a"/>
<line x1="311.1" y1="450.5" x2="311.1" y2="452.3" stroke="#151515" stroke-width="0.8"/>
<line x1="311.1" y1="429.34" x2="311.1" y2="433.99" stroke="#151515" stroke-width="0.9"/>
<line x1="308.9" y1="429.34" x2="313.3" y2="429.34" stroke="#151515" stroke-width="0.9"/>
<circle cx="246.5" cy="398.9" r="1.3" fill="#000"/>
<circle cx="248.2" cy="398.9" r="1.3" fill="#000"/>
<circle cx="249.8" cy="398.9" r="1.3" fill="#000"/>
<circle cx="258.9" cy="422.64" r="1.3" fill="#000"/>
<circle cx="258.9" cy="436.57" r="1.3" fill="#000"/>
<circle cx="258.9" cy="446.37" r="1.3" fill="#000"/>
<circle cx="269.3" cy="420.57" r="1.3" fill="#000"/>
<circle cx="269.3" cy="431.92" r="1.3" fill="#000"/>
<circle cx="269.3" cy="441.21" r="1.3" fill="#000"/>
<circle cx="269.3" cy="446.37" r="1.3" fill="#000"/>
<circle cx="280" cy="423.67" r="1.3" fill="#000"/>
<circle cx="280" cy="430.89" r="1.3" fill="#000"/>
<circle cx="280" cy="433.99" r="1.3" fill="#000"/>
<circle cx="280" cy="445.34" r="1.3" fill="#000"/>
<circle cx="290.4" cy="423.67" r="1.3" fill="#000"/>
<circle cx="290.4" cy="432.44" r="1.3" fill="#000"/>
<circle cx="290.4" cy="439.15" r="1.3" fill="#000"/>
<circle cx="290.4" cy="445.34" r="1.3" fill="#000"/>
<circle cx="298.5" cy="424.18" r="1.3" fill="#000"/>
<circle cx="303.1" cy="424.18" r="1.3" fill="#000"/>
<circle cx="300.8" cy="437.6" r="1.3" fill="#000"/>
<circle cx="300.8" cy="442.76" r="1.3" fill="#000"/>
<circle cx="311.1" cy="423.15" r="1.3" fill="#000"/>
<circle cx="311.1" cy="431.92" r="1.3" fill="#000"/>
<circle cx="311.1" cy="439.15" r="1.3" fill="#000"/>
<circle cx="311.1" cy="442.76" r="1.3" fill="#000"/>
<circle cx="257.1" cy="417.2" r="1.1" fill="#222"/>
<circle cx="260.7" cy="417.2" r="1.1" fill="#222"/>
<circle cx="267.5" cy="410.3" r="1.1" fill="#222"/>
<circle cx="271.1" cy="410.3" r="1.1" fill="#222"/>
<circle cx="278.2" cy="417.8" r="1.1" fill="#222"/>
<circle cx="281.8" cy="417.8" r="1.1" fill="#222"/>
<circle cx="288.6" cy="417.8" r="1.1" fill="#222"/>
<circle cx="292.2" cy="417.8" r="1.1" fill="#222"/>
<circle cx="299" cy="418.4" r="1.1" fill="#222"/>
<circle cx="302.6" cy="418.4" r="1.1" fill="#222"/>
<circle cx="309.3" cy="416.7" r="1.1" fill="#222"/>
<circle cx="312.9" cy="416.7" r="1.1" fill="#222"/>
<text transform="translate(192.8,410.6) rotate(-90)" x="0" y="0" font-size="9.5" text-anchor="middle" font-style="italic" style="stroke-width:0.12px">F3</text>
<text transform="translate(206.2,410.6) rotate(-90) scale(0.66,1)" x="0" y="0" font-size="9.6" text-anchor="middle" style="letter-spacing:0.167px;stroke-width:0.42px">Relative expression levels</text>
<text transform="translate(217.6,410.6) rotate(-90) scale(0.66,1)" x="0" y="0" font-size="9.6" text-anchor="middle" style="letter-spacing:0.099px;stroke-width:0.42px">(fold changes)</text>
<text transform="translate(251.2,462) rotate(-45)" x="0" y="0" font-size="8.2" text-anchor="end" textLength="15.5" lengthAdjust="spacingAndGlyphs" style="stroke-width:0.15px">0.00</text>
<text transform="translate(262,462) rotate(-45)" x="0" y="0" font-size="8.2" text-anchor="end" textLength="15.5" lengthAdjust="spacingAndGlyphs" style="stroke-width:0.15px">0.13</text>
<text transform="translate(272.4,462) rotate(-45)" x="0" y="0" font-size="8.2" text-anchor="end" textLength="15.5" lengthAdjust="spacingAndGlyphs" style="stroke-width:0.15px">0.25</text>
<text transform="translate(283.1,462) rotate(-45)" x="0" y="0" font-size="8.2" text-anchor="end" textLength="15.5" lengthAdjust="spacingAndGlyphs" style="stroke-width:0.15px">0.50</text>
<text transform="translate(293.5,462) rotate(-45)" x="0" y="0" font-size="8.2" text-anchor="end" textLength="15.5" lengthAdjust="spacingAndGlyphs" style="stroke-width:0.15px">1.00</text>
<text transform="translate(303.9,462) rotate(-45)" x="0" y="0" font-size="8.2" text-anchor="end" textLength="15.5" lengthAdjust="spacingAndGlyphs" style="stroke-width:0.15px">1.50</text>
<text transform="translate(314.2,462) rotate(-45)" x="0" y="0" font-size="8.2" text-anchor="end" textLength="15.5" lengthAdjust="spacingAndGlyphs" style="stroke-width:0.15px">3.00</text>
<text transform="translate(283,485) scale(0.64,1)" x="0" y="0" font-size="10.2" text-anchor="middle" style="letter-spacing:0.224px;stroke-width:0.4px">Ruxolitinib (uM)</text>
<text x="346.5" y="349.1" font-size="10.9" text-anchor="start" font-weight="bold" style="stroke-width:0.45px" fill="#000">H</text>
<line x1="402.6" y1="375.7" x2="402.6" y2="451.25" stroke="#151515" stroke-width="1.1"/>
<line x1="400" y1="450.7" x2="402.6" y2="450.7" stroke="#151515" stroke-width="0.9"/>
<text x="396.7" y="453.2" font-size="7.9" text-anchor="end">0.0</text>
<line x1="400" y1="425.7" x2="402.6" y2="425.7" stroke="#151515" stroke-width="0.9"/>
<text x="396.7" y="428.2" font-size="7.9" text-anchor="end">0.5</text>
<line x1="400" y1="400.7" x2="402.6" y2="400.7" stroke="#151515" stroke-width="0.9"/>
<text x="396.7" y="403.2" font-size="7.9" text-anchor="end">1.0</text>
<line x1="400" y1="375.7" x2="402.6" y2="375.7" stroke="#151515" stroke-width="0.9"/>
<text x="396.7" y="378.2" font-size="7.9" text-anchor="end">1.5</text>
<line x1="402.1" y1="450.7" x2="479.5" y2="450.7" stroke="#151515" stroke-width="1.1"/>
<rect x="406.3" y="400.7" width="6.1" height="50" fill="#cc0a2a"/>
<line x1="409.35" y1="450.7" x2="409.35" y2="452.5" stroke="#151515" stroke-width="0.8"/>
<rect x="416.7" y="416.2" width="6.1" height="34.5" fill="#cc0a2a"/>
<line x1="419.75" y1="450.7" x2="419.75" y2="452.5" stroke="#151515" stroke-width="0.8"/>
<line x1="419.75" y1="407.4" x2="419.75" y2="416.2" stroke="#151515" stroke-width="0.9"/>
<line x1="417.55" y1="407.4" x2="421.95" y2="407.4" stroke="#151515" stroke-width="0.9"/>
<rect x="426.6" y="415.7" width="6.1" height="35" fill="#cc0a2a"/>
<line x1="429.65" y1="450.7" x2="429.65" y2="452.5" stroke="#151515" stroke-width="0.8"/>
<line x1="429.65" y1="404.4" x2="429.65" y2="415.7" stroke="#151515" stroke-width="0.9"/>
<line x1="427.45" y1="404.4" x2="431.85" y2="404.4" stroke="#151515" stroke-width="0.9"/>
<rect x="436.9" y="416.2" width="6.1" height="34.5" fill="#cc0a2a"/>
<line x1="439.95" y1="450.7" x2="439.95" y2="452.5" stroke="#151515" stroke-width="0.8"/>
<line x1="439.95" y1="407.4" x2="439.95" y2="416.2" stroke="#151515" stroke-width="0.9"/>
<line x1="437.75" y1="407.4" x2="442.15" y2="407.4" stroke="#151515" stroke-width="0.9"/>
<rect x="447" y="417.4" width="6.1" height="33.3" fill="#cc0a2a"/>
<line x1="450.05" y1="450.7" x2="450.05" y2="452.5" stroke="#151515" stroke-width="0.8"/>
<line x1="450.05" y1="411.3" x2="450.05" y2="417.4" stroke="#151515" stroke-width="0.9"/>
<line x1="447.85" y1="411.3" x2="452.25" y2="411.3" stroke="#151515" stroke-width="0.9"/>
<rect x="457.2" y="415.2" width="6.1" height="35.5" fill="#cc0a2a"/>
<line x1="460.25" y1="450.7" x2="460.25" y2="452.5" stroke="#151515" stroke-width="0.8"/>
<line x1="460.25" y1="403.6" x2="460.25" y2="415.2" stroke="#151515" stroke-width="0.9"/>
<line x1="458.05" y1="403.6" x2="462.45" y2="403.6" stroke="#151515" stroke-width="0.9"/>
<rect x="467.2" y="420.2" width="6.1" height="30.5" fill="#cc0a2a"/>
<line x1="470.25" y1="450.7" x2="470.25" y2="452.5" stroke="#151515" stroke-width="0.8"/>
<line x1="470.25" y1="416.5" x2="470.25" y2="420.2" stroke="#151515" stroke-width="0.9"/>
<line x1="468.05" y1="416.5" x2="472.45" y2="416.5" stroke="#151515" stroke-width="0.9"/>
<circle cx="407.5" cy="400.7" r="1.3" fill="#000"/>
<circle cx="409.3" cy="400.7" r="1.3" fill="#000"/>
<circle cx="411" cy="400.7" r="1.3" fill="#000"/>
<circle cx="417.4" cy="403.2" r="1.35" fill="#000"/>
<circle cx="421.4" cy="401.8" r="1.35" fill="#000"/>
<circle cx="419.6" cy="421.7" r="1.35" fill="#000"/>
<circle cx="419.6" cy="434.7" r="1.35" fill="#000"/>
<circle cx="429.5" cy="394" r="1.35" fill="#000"/>
<circle cx="429.5" cy="401" r="1.35" fill="#000"/>
<circle cx="429.5" cy="426" r="1.35" fill="#000"/>
<circle cx="429.5" cy="437" r="1.35" fill="#000"/>
<circle cx="437.8" cy="404" r="1.35" fill="#000"/>
<circle cx="441.6" cy="402.7" r="1.35" fill="#000"/>
<circle cx="439.5" cy="420.9" r="1.35" fill="#000"/>
<circle cx="439.5" cy="433.8" r="1.35" fill="#000"/>
<circle cx="449.9" cy="403.2" r="1.35" fill="#000"/>
<circle cx="449.9" cy="421" r="1.35" fill="#000"/>
<circle cx="449.9" cy="431.2" r="1.35" fill="#000"/>
<circle cx="460" cy="394.4" r="1.35" fill="#000"/>
<circle cx="457.7" cy="431.2" r="1.35" fill="#000"/>
<circle cx="462.4" cy="429" r="1.35" fill="#000"/>
<circle cx="470.3" cy="412.7" r="1.35" fill="#000"/>
<circle cx="470.3" cy="427" r="1.35" fill="#000"/>
<path d="M449.9,409.9L451.5,412.78L448.3,412.78Z" fill="#000"/>
<path d="M460,402.7L461.6,405.58L458.4,405.58Z" fill="#000"/>
<path d="M460,419.4L461.6,422.28L458.4,422.28Z" fill="#000"/>
<path d="M470.3,416L471.9,418.88L468.7,418.88Z" fill="#000"/>
<circle cx="468.5" cy="407.3" r="1.1" fill="#222"/>
<circle cx="472.1" cy="407.3" r="1.1" fill="#222"/>
<text transform="translate(354.1,412) rotate(-90)" x="0" y="0" font-size="9.5" text-anchor="middle" font-style="italic" style="stroke-width:0.12px">SERPINE1</text>
<text transform="translate(367.4,412) rotate(-90) scale(0.66,1)" x="0" y="0" font-size="9.6" text-anchor="middle" style="letter-spacing:0.167px;stroke-width:0.42px">Relative expression levels</text>
<text transform="translate(380.5,412) rotate(-90) scale(0.66,1)" x="0" y="0" font-size="9.6" text-anchor="middle" style="letter-spacing:0.215px;stroke-width:0.42px">(fold changes)</text>
<text transform="translate(412.45,462) rotate(-45)" x="0" y="0" font-size="8.2" text-anchor="end" textLength="15.5" lengthAdjust="spacingAndGlyphs" style="stroke-width:0.15px">0.00</text>
<text transform="translate(422.85,462) rotate(-45)" x="0" y="0" font-size="8.2" text-anchor="end" textLength="15.5" lengthAdjust="spacingAndGlyphs" style="stroke-width:0.15px">0.13</text>
<text transform="translate(432.75,462) rotate(-45)" x="0" y="0" font-size="8.2" text-anchor="end" textLength="15.5" lengthAdjust="spacingAndGlyphs" style="stroke-width:0.15px">0.25</text>
<text transform="translate(443.05,462) rotate(-45)" x="0" y="0" font-size="8.2" text-anchor="end" textLength="15.5" lengthAdjust="spacingAndGlyphs" style="stroke-width:0.15px">0.50</text>
<text transform="translate(453.15,462) rotate(-45)" x="0" y="0" font-size="8.2" text-anchor="end" textLength="15.5" lengthAdjust="spacingAndGlyphs" style="stroke-width:0.15px">1.00</text>
<text transform="translate(463.35,462) rotate(-45)" x="0" y="0" font-size="8.2" text-anchor="end" textLength="15.5" lengthAdjust="spacingAndGlyphs" style="stroke-width:0.15px">1.50</text>
<text transform="translate(473.35,462) rotate(-45)" x="0" y="0" font-size="8.2" text-anchor="end" textLength="15.5" lengthAdjust="spacingAndGlyphs" style="stroke-width:0.15px">3.00</text>
<text transform="translate(444.2,488.3) scale(0.64,1)" x="0" y="0" font-size="10.2" text-anchor="middle" style="letter-spacing:0.349px;stroke-width:0.4px">Ruxolitinib (uM)</text>
<text x="1.5" y="517.7" font-size="10.9" text-anchor="start" font-weight="bold" style="stroke-width:0.45px" fill="#000">I</text>
<line x1="56.3" y1="537.3" x2="56.3" y2="610.75" stroke="#151515" stroke-width="1.1"/>
<line x1="53.7" y1="610.2" x2="56.3" y2="610.2" stroke="#151515" stroke-width="0.9"/>
<text x="50.4" y="612.7" font-size="7.9" text-anchor="end">0.0</text>
<line x1="53.7" y1="585.9" x2="56.3" y2="585.9" stroke="#151515" stroke-width="0.9"/>
<text x="50.4" y="588.4" font-size="7.9" text-anchor="end">0.5</text>
<line x1="53.7" y1="561.6" x2="56.3" y2="561.6" stroke="#151515" stroke-width="0.9"/>
<text x="50.4" y="564.1" font-size="7.9" text-anchor="end">1.0</text>
<line x1="53.7" y1="537.3" x2="56.3" y2="537.3" stroke="#151515" stroke-width="0.9"/>
<text x="50.4" y="539.8" font-size="7.9" text-anchor="end">1.5</text>
<line x1="55.8" y1="610.2" x2="167.3" y2="610.2" stroke="#151515" stroke-width="1.1"/>
<line x1="56.5" y1="610.2" x2="56.5" y2="612.5" stroke="#151515" stroke-width="0.8"/>
<text x="56.5" y="622.5" font-size="7.8" text-anchor="middle">0</text>
<line x1="78.35" y1="610.2" x2="78.35" y2="612.5" stroke="#151515" stroke-width="0.8"/>
<text x="78.35" y="622.5" font-size="7.8" text-anchor="middle">1</text>
<line x1="100.2" y1="610.2" x2="100.2" y2="612.5" stroke="#151515" stroke-width="0.8"/>
<text x="100.2" y="622.5" font-size="7.8" text-anchor="middle">2</text>
<line x1="122.05" y1="610.2" x2="122.05" y2="612.5" stroke="#151515" stroke-width="0.8"/>
<text x="122.05" y="622.5" font-size="7.8" text-anchor="middle">3</text>
<line x1="143.9" y1="610.2" x2="143.9" y2="612.5" stroke="#151515" stroke-width="0.8"/>
<text x="143.9" y="622.5" font-size="7.8" text-anchor="middle">4</text>
<line x1="165.75" y1="610.2" x2="165.75" y2="612.5" stroke="#151515" stroke-width="0.8"/>
<text x="165.75" y="622.5" font-size="7.8" text-anchor="middle">5</text>
<line x1="73.8" y1="568.8" x2="144.5" y2="575" stroke="#d23c5a" stroke-width="1.3"/>
<line x1="79.5" y1="585" x2="143.8" y2="595.8" stroke="#d23c5a" stroke-width="1.3"/>
<circle cx="78" cy="562" r="1.55" fill="#19406a"/>
<circle cx="80" cy="562.5" r="1.55" fill="#19406a"/>
<circle cx="81.2" cy="564" r="1.55" fill="#19406a"/>
<circle cx="74.3" cy="585" r="1.55" fill="#19406a"/>
<circle cx="76.3" cy="583" r="1.55" fill="#19406a"/>
<circle cx="78.8" cy="585" r="1.55" fill="#19406a"/>
<circle cx="81.3" cy="583" r="1.55" fill="#19406a"/>
<circle cx="82.5" cy="585" r="1.55" fill="#19406a"/>
<circle cx="94.5" cy="584.5" r="1.55" fill="#19406a"/>
<circle cx="123" cy="585.5" r="1.55" fill="#19406a"/>
<circle cx="144.5" cy="592.5" r="1.55" fill="#19406a"/>
<circle cx="75" cy="593" r="1.55" fill="#19406a"/>
<circle cx="78.8" cy="593.8" r="1.55" fill="#19406a"/>
<circle cx="81.3" cy="592.5" r="1.55" fill="#19406a"/>
<circle cx="81.3" cy="590.5" r="1.55" fill="#19406a"/>
<circle cx="77" cy="595.5" r="1.55" fill="#19406a"/>
<circle cx="73.8" cy="599.5" r="1.55" fill="#19406a"/>
<circle cx="93" cy="596.3" r="1.55" fill="#19406a"/>
<circle cx="99.5" cy="597.5" r="1.55" fill="#19406a"/>
<circle cx="102" cy="598" r="1.55" fill="#19406a"/>
<circle cx="100" cy="592" r="1.55" fill="#19406a"/>
<circle cx="73" cy="582.5" r="1.55" fill="#19406a"/>
<circle cx="79.5" cy="588" r="1.55" fill="#19406a"/>
<path d="M76.3,553.75L78.05,556.9L74.55,556.9Z" fill="#19406a"/>
<path d="M123,553.75L124.75,556.9L121.25,556.9Z" fill="#19406a"/>
<path d="M144.5,572.05L146.25,575.2L142.75,575.2Z" fill="#19406a"/>
<path d="M99.5,570.75L101.25,573.9L97.75,573.9Z" fill="#19406a"/>
<path d="M94.5,575.75L96.25,578.9L92.75,578.9Z" fill="#19406a"/>
<path d="M101.3,580.25L103.05,583.4L99.55,583.4Z" fill="#19406a"/>
<path d="M94.5,587.05L96.25,590.2L92.75,590.2Z" fill="#19406a"/>
<path d="M101.3,585.25L103.05,588.4L99.55,588.4Z" fill="#19406a"/>
<path d="M73,562.05L74.75,565.2L71.25,565.2Z" fill="#19406a"/>
<path d="M76.5,561.25L78.25,564.4L74.75,564.4Z" fill="#19406a"/>
<path d="M82.5,584.75L84.25,587.9L80.75,587.9Z" fill="#19406a"/>
<line x1="60.5" y1="540.6" x2="68.8" y2="540.6" stroke="#19406a" stroke-width="0.8"/>
<circle cx="64.6" cy="540.6" r="1.2" fill="#19406a"/>
<text x="71.5" y="543.2" font-size="7.9" text-anchor="start" font-style="italic" style="stroke-width:0.15px">F3</text>
<line x1="90" y1="540.6" x2="98" y2="540.6" stroke="#19406a" stroke-width="0.8"/>
<path d="M94,539.5L95.3,541.84L92.7,541.84Z" fill="#19406a"/>
<text x="101.3" y="543.2" font-size="8.3" text-anchor="start" font-style="italic" textLength="35" lengthAdjust="spacingAndGlyphs" style="stroke-width:0.12px">SERPINE1</text>
<text transform="translate(113.1,637.8) scale(0.63,1)" x="0" y="0" font-size="10" text-anchor="middle" style="letter-spacing:0.188px;stroke-width:0.4px">Relative expression levels</text>
<text transform="translate(113.6,649) scale(0.66,1)" x="0" y="0" font-size="10" text-anchor="middle" style="letter-spacing:0.048px;stroke-width:0.4px">(fold changes) <tspan font-style="italic">KLF2</tspan></text>
<text transform="translate(10.2,569.5) rotate(-90)" x="0" y="0" font-size="9" text-anchor="middle" font-style="italic" textLength="66" lengthAdjust="spacingAndGlyphs" style="stroke-width:0.25px">F3/SERPINE1</text>
<text transform="translate(21,572.2) rotate(-90) scale(0.66,1)" x="0" y="0" font-size="9.6" text-anchor="middle" style="letter-spacing:0.045px;stroke-width:0.42px">Relative expression levels</text>
<text transform="translate(33.2,572.4) rotate(-90) scale(0.66,1)" x="0" y="0" font-size="9.6" text-anchor="middle" style="letter-spacing:0.332px;stroke-width:0.42px">(fold changes)</text>
<text x="184" y="517.7" font-size="10.9" text-anchor="start" font-weight="bold" style="stroke-width:0.45px" fill="#000">J</text>
<line x1="241.3" y1="539.9" x2="241.3" y2="610.65" stroke="#151515" stroke-width="1.1"/>
<line x1="238.7" y1="610.1" x2="241.3" y2="610.1" stroke="#151515" stroke-width="0.9"/>
<text x="235.4" y="612.6" font-size="7.9" text-anchor="end">0.0</text>
<line x1="238.7" y1="586.7" x2="241.3" y2="586.7" stroke="#151515" stroke-width="0.9"/>
<text x="235.4" y="589.2" font-size="7.9" text-anchor="end">0.5</text>
<line x1="238.7" y1="563.3" x2="241.3" y2="563.3" stroke="#151515" stroke-width="0.9"/>
<text x="235.4" y="565.8" font-size="7.9" text-anchor="end">1.0</text>
<line x1="238.7" y1="539.9" x2="241.3" y2="539.9" stroke="#151515" stroke-width="0.9"/>
<text x="235.4" y="542.4" font-size="7.9" text-anchor="end">1.5</text>
<line x1="240.8" y1="610.1" x2="318.2" y2="610.1" stroke="#151515" stroke-width="1.1"/>
<rect x="248" y="563.3" width="10.4" height="46.8" fill="#cc0a2a"/>
<line x1="253.2" y1="610.1" x2="253.2" y2="612" stroke="#151515" stroke-width="0.8"/>
<rect x="265.8" y="579.91" width="10.4" height="30.19" fill="#cc0a2a"/>
<line x1="271" y1="610.1" x2="271" y2="612" stroke="#151515" stroke-width="0.8"/>
<line x1="271" y1="575.94" x2="271" y2="579.91" stroke="#151515" stroke-width="0.9"/>
<line x1="268.5" y1="575.94" x2="273.5" y2="575.94" stroke="#151515" stroke-width="0.9"/>
<rect x="283.5" y="585.53" width="10.4" height="24.57" fill="#cc0a2a"/>
<line x1="288.7" y1="610.1" x2="288.7" y2="612" stroke="#151515" stroke-width="0.8"/>
<line x1="288.7" y1="580.62" x2="288.7" y2="585.53" stroke="#151515" stroke-width="0.9"/>
<line x1="286.2" y1="580.62" x2="291.2" y2="580.62" stroke="#151515" stroke-width="0.9"/>
<rect x="301.6" y="598.4" width="10.4" height="11.7" fill="#cc0a2a"/>
<line x1="306.8" y1="610.1" x2="306.8" y2="612" stroke="#151515" stroke-width="0.8"/>
<line x1="306.8" y1="594.19" x2="306.8" y2="598.4" stroke="#151515" stroke-width="0.9"/>
<line x1="304.3" y1="594.19" x2="309.3" y2="594.19" stroke="#151515" stroke-width="0.9"/>
<circle cx="249" cy="563.3" r="1.5" fill="#000"/>
<circle cx="253.2" cy="563.3" r="1.5" fill="#000"/>
<circle cx="257.5" cy="563.3" r="1.5" fill="#000"/>
<circle cx="270.5" cy="574.3" r="1.5" fill="#000"/>
<circle cx="270.5" cy="580.4" r="1.5" fill="#000"/>
<circle cx="270.5" cy="583.8" r="1.5" fill="#000"/>
<circle cx="289" cy="579" r="1.5" fill="#000"/>
<circle cx="284.3" cy="588.2" r="1.5" fill="#000"/>
<circle cx="293.8" cy="586.4" r="1.5" fill="#000"/>
<circle cx="289" cy="586.4" r="1.5" fill="#000"/>
<circle cx="307" cy="594.2" r="1.5" fill="#000"/>
<circle cx="307" cy="597.5" r="1.5" fill="#000"/>
<circle cx="306.5" cy="600.5" r="1.5" fill="#000"/>
<circle cx="271" cy="566.4" r="1.0" fill="#222"/>
<circle cx="289" cy="572.8" r="1.0" fill="#222"/>
<circle cx="304.7" cy="587.8" r="1.0" fill="#222"/>
<circle cx="308.3" cy="587.8" r="1.0" fill="#222"/>
<line x1="270.5" y1="541" x2="306.8" y2="541" stroke="#151515" stroke-width="1.1"/>
<line x1="270.5" y1="541" x2="270.5" y2="559.6" stroke="#151515" stroke-width="1.1"/>
<line x1="306.8" y1="541" x2="306.8" y2="583.8" stroke="#151515" stroke-width="1.1"/>
<circle cx="289" cy="535.9" r="1.0" fill="#222"/>
<text transform="translate(194,574) rotate(-90)" x="0" y="0" font-size="9.5" text-anchor="middle" font-style="italic" style="stroke-width:0.12px">F3</text>
<text transform="translate(205.9,574) rotate(-90) scale(0.66,1)" x="0" y="0" font-size="9.6" text-anchor="middle" style="letter-spacing:0.106px;stroke-width:0.42px">Relative expression levels</text>
<text transform="translate(219.1,574) rotate(-90) scale(0.66,1)" x="0" y="0" font-size="9.6" text-anchor="middle" style="letter-spacing:0.274px;stroke-width:0.42px">(fold changes)</text>
<text transform="translate(255.5,622) rotate(-45) scale(0.82,1)" x="0" y="0" font-size="8.8" text-anchor="end" style="letter-spacing:0.254px;stroke-width:0.35px">No treatment</text>
<text transform="translate(273.5,622) rotate(-45) scale(0.82,1)" x="0" y="0" font-size="8.8" text-anchor="end" style="letter-spacing:0.078px;stroke-width:0.35px"><tspan font-style="italic">KLF2</tspan> only</text>
<text transform="translate(291.4,622) rotate(-45) scale(0.82,1)" x="0" y="0" font-size="8.8" text-anchor="end" style="letter-spacing:0.241px;stroke-width:0.35px">Ruxolitinib only</text>
<text transform="translate(309.4,622) rotate(-45) scale(0.82,1)" x="0" y="0" font-size="8.8" text-anchor="end" style="letter-spacing:0.183px;stroke-width:0.35px"><tspan font-style="italic">KLF2</tspan>+Ruxolitinib</text>
</svg>
</body></html>
